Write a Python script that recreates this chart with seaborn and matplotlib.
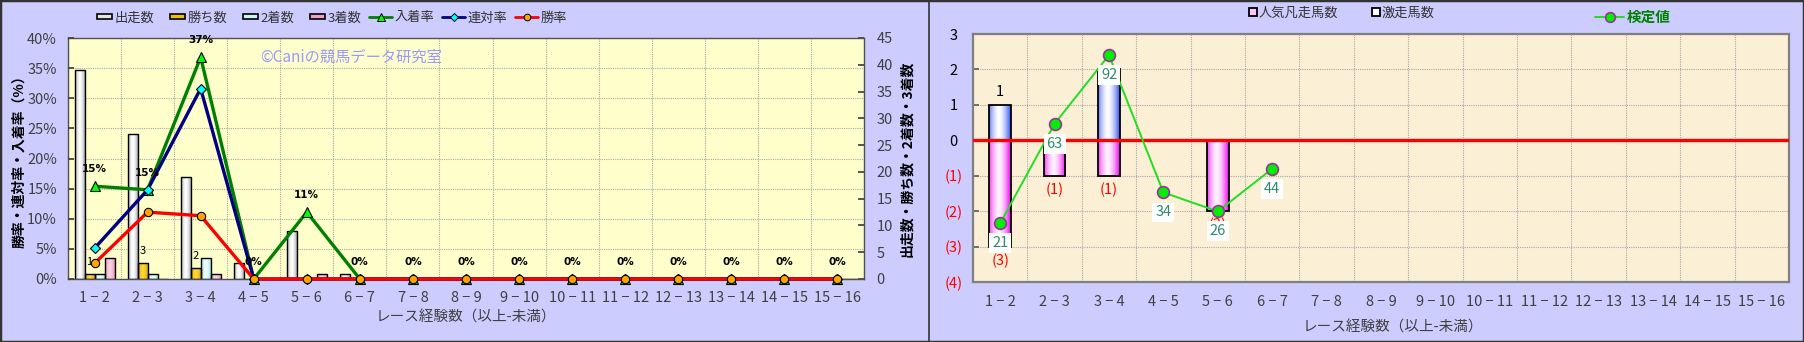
import numpy as np
import pandas as pd
import matplotlib
matplotlib.use("Agg")
import matplotlib.pyplot as plt
import seaborn as sns
from matplotlib.patches import Rectangle, Patch
from matplotlib.lines import Line2D
from matplotlib.legend_handler import HandlerPatch
from matplotlib.colors import to_rgb

sns.set_theme(style="white")
plt.rcParams["font.family"] = ["Noto Sans CJK JP", "DejaVu Sans"]

# ---- data -------------------------------------------------------------
categories = ["1 − 2", "2 − 3", "3 − 4", "4 − 5", "5 − 6", "6 − 7", "7 − 8", "8 − 9",
              "9 − 10", "10 − 11", "11 − 12", "12 − 13", "13 − 14", "14 − 15", "15 − 16"]

runs = [39, 27, 19, 3, 9, 1, 0, 0, 0, 0, 0, 0, 0, 0, 0]
wins = [1, 3, 2, 0, 0, 0, 0, 0, 0, 0, 0, 0, 0, 0, 0]
seconds = [1, 1, 4, 0, 0, 0, 0, 0, 0, 0, 0, 0, 0, 0, 0]
thirds = [4, 0, 1, 0, 1, 0, 0, 0, 0, 0, 0, 0, 0, 0, 0]

place_rate = [15.4, 14.8, 36.8, 0, 11.1, 0, 0, 0, 0, 0, 0, 0, 0, 0, 0]
quinella_rate = [5.1, 14.8, 31.6, 0, 0, 0, 0, 0, 0, 0, 0, 0, 0, 0, 0]
win_rate = [2.6, 11.1, 10.5, 0, 0, 0, 0, 0, 0, 0, 0, 0, 0, 0, 0]

upset_horses = [1, 0, 2, 0, 0, 0, 0, 0, 0, 0, 0, 0, 0, 0, 0]
flop_horses = [3, 1, 1, 0, 2, 0, 0, 0, 0, 0, 0, 0, 0, 0, 0]
test_values = [21, 63, 92, 34, 26, 44]

bar_names = ["出走数", "勝ち数", "2着数", "3着数"]
rate_names = ["入着率", "連対率", "勝率"]

pct_ticks = [0, 5, 10, 15, 20, 25, 30, 35, 40]
count_ticks = [0, 5, 10, 15, 20, 25, 30, 35, 40, 45]
score_ticks = [-4, -3, -2, -1, 0, 1, 2, 3]
score_labels = ["(4)", "(3)", "(2)", "(1)", "0", "1", "2", "3"]

# ---- styling ----------------------------------------------------------
PANEL_BG = "#CCCCFF"
TXT = "#404040"
GRID = dict(color="#A8A8A8", lw=0.8, ls=(0, (1, 1)))
# (edge colour, centre colour) of the shaded bars
bar_shades = [("#8C8C8C", "#FFFFFF"), ("#C89600", "#FFD633"),
              ("#86D2DA", "#EFFFFF"), ("#DC78AA", "#FFD2E6")]
bar_legend_fc = ["#E4E4E4", "#F0C000", "#C8F2F4", "#F0A0C8"]
up_shade = ("#3050F0", "#FFFFFF")
down_shade = ("#EE00EE", "#FFF2FF")


def shade_bar(ax, patch, edge, mid):
    """Replace a bar's flat fill by a horizontal edge-centre-edge gradient."""
    h = patch.get_height()
    if h == 0:
        return
    x0, y0, w = patch.get_x(), patch.get_y(), patch.get_width()
    t = np.linspace(0, 1, 64)
    prof = np.clip(1 - (np.abs(t - 0.45) / 0.55) ** 1.6, 0, 1)
    e, m = np.array(to_rgb(edge)), np.array(to_rgb(mid))
    arr = (e[None, :] * (1 - prof[:, None]) + m[None, :] * prof[:, None])[None, :, :]
    im = ax.imshow(arr, extent=[x0, x0 + w, min(y0, y0 + h), max(y0, y0 + h)],
                   aspect="auto", interpolation="bilinear", zorder=patch.get_zorder())
    im.set_clip_path(patch)
    patch.set_facecolor("none")
    patch.set_zorder(patch.get_zorder() + 0.05)


fig = plt.figure(figsize=(18.04, 3.42), dpi=100, facecolor=PANEL_BG)
W, H = 1804, 342

# ======================= left chart =====================================
ax_b = fig.add_axes([68 / W, 1 - 279 / H, (864 - 68) / W, (279 - 38) / H])
ax_b.set_facecolor("#FFFFCC")
ax_l = ax_b.twinx()

df = pd.DataFrame({
    "cat": categories * 4,
    "series": [n for n in bar_names for _ in categories],
    "count": runs + wins + seconds + thirds,
})
sns.barplot(data=df, x="cat", y="count", hue="series", hue_order=bar_names,
            palette=bar_legend_fc, width=0.755, edgecolor="black", linewidth=1.0,
            saturation=1, legend=False, ax=ax_b)

for cont, (e, m) in zip(ax_b.containers, bar_shades):
    for p in cont.patches:
        shade_bar(ax_b, p, e, m)

ax_b.bar_label(ax_b.containers[1], labels=[str(v) if v else "" for v in wins],
               padding=5, fontsize=8, color="black")

ax_b.set_xlim(-0.5, len(categories) - 0.5)
ax_b.set_ylim(0, 45)
ax_b.set_xticks(range(len(categories)))
ax_b.set_xticklabels(categories)
ax_b.set_xticks(np.arange(0.5, len(categories) - 0.5, 1), minor=True)
ax_b.grid(which="minor", axis="x", **GRID)
ax_b.set_axisbelow(True)
for p in pct_ticks[1:-1]:
    ax_b.axhline(45 * p / 40, zorder=0.5, **GRID)

ax_b.set_yticks(count_ticks)
ax_b.tick_params(axis="y", direction="in", length=4, pad=9, labelsize=10.5,
                 labelcolor=TXT, color="#404040", right=True, left=False,
                 labelright=True, labelleft=False)
ax_b.tick_params(axis="x", which="major", length=0, pad=9, labelsize=10.5, labelcolor=TXT)
ax_b.tick_params(axis="x", which="minor", length=0)
ax_b.set_xlabel("レース経験数（以上-未満）", fontsize=10.5, color=TXT)
ax_b.xaxis.set_label_coords(0.5, -0.13)
ax_b.yaxis.set_label_position("right")
ax_b.set_ylabel("出走数・勝ち数・2着数・3着数", fontsize=10, color="black",
                fontweight="bold", rotation=90, va="top")
ax_b.yaxis.set_label_coords(1.046, 0.5)
for s in ax_b.spines.values():
    s.set_color("#505050")
    s.set_linewidth(1.0)

xpos = np.arange(len(categories))
line_specs = [
    (place_rate, "#008000", "^", "#00FF00", 7.5),
    (quinella_rate, "#000080", "D", "#00FFFF", 5.0),
    (win_rate, "#FF0000", "o", "#FFA500", 6.0),
]
for vals, lc, mk, mfc, ms in line_specs:
    sns.lineplot(x=xpos, y=vals, ax=ax_l, color=lc, lw=2.4, marker=mk, markersize=ms,
                 markerfacecolor=mfc, markeredgecolor="black", markeredgewidth=0.8,
                 legend=False, clip_on=False)
for i, v in enumerate(place_rate):
    ax_l.annotate(f"{v:.0f}%", (i, v), xytext=(0, 17), textcoords="offset pixels",
                  ha="center", va="center", fontsize=7.5, fontweight="bold",
                  color="black", family="DejaVu Sans")
ax_l.text(0.241, 0.921, "©Caniの競馬データ研究室", transform=ax_l.transAxes,
          ha="left", va="center", fontsize=11, color="#9999FF")
ax_l.set_ylim(0, 40)
ax_l.set_yticks(pct_ticks)
ax_l.set_yticklabels([f"{p}%" for p in pct_ticks])
ax_l.tick_params(axis="y", direction="in", length=4, pad=8, labelsize=10.5,
                 labelcolor=TXT, color="#404040", left=True, right=False,
                 labelleft=True, labelright=False)
ax_l.yaxis.set_label_position("left")
ax_l.set_ylabel("勝率・連対率・入着率（%）", fontsize=10, color="black",
                fontweight="bold", va="bottom")
ax_l.yaxis.set_label_coords(-0.052, 0.5)
for s in ax_l.spines.values():
    s.set_visible(False)
ax_l.set_xlim(-0.5, len(categories) - 0.5)


def small_rect(legend, orig_handle, xdescent, ydescent, width, height, fontsize):
    w2, h2 = width * 0.66, height * 0.55
    return Rectangle((-xdescent + width - w2, -ydescent + (height - h2) / 2), w2, h2)


left_handles = [Patch(facecolor=c, edgecolor="black", lw=1.2) for c in bar_legend_fc]
left_handles += [Line2D([], [], color=lc, lw=2, marker=mk, markersize=ms * 0.8,
                        markerfacecolor=mfc, markeredgecolor="black", markeredgewidth=0.7)
                 for _, lc, mk, mfc, ms in line_specs]
leg = fig.legend(left_handles, bar_names + rate_names, ncol=7, loc="center",
                 bbox_to_anchor=(328 / W, 1 - 18 / H), frameon=False, fontsize=9.5,
                 handlelength=1.75, handletextpad=0.15, columnspacing=0.62,
                 handler_map={Patch: HandlerPatch(patch_func=small_rect)})
for t in leg.get_texts():
    t.set_color("#333333")

# ======================= right chart ====================================
ax_r = fig.add_axes([973 / W, 1 - 282 / H, (1789 - 973) / W, (282 - 34) / H])
ax_r.set_facecolor("#FBF0D6")

sns.barplot(x=categories, y=upset_horses, color=up_shade[0], width=0.4,
            edgecolor="black", linewidth=1.3, saturation=1, ax=ax_r)
sns.barplot(x=categories, y=[-v for v in flop_horses], color=down_shade[0], width=0.4,
            edgecolor="black", linewidth=1.3, saturation=1, ax=ax_r)
for p in ax_r.containers[0].patches:
    shade_bar(ax_r, p, *up_shade)
for p in ax_r.containers[1].patches:
    shade_bar(ax_r, p, *down_shade)

ax_r.bar_label(ax_r.containers[0], labels=[str(v) if v else "" for v in upset_horses],
               padding=4, fontsize=10.5, color="black")
ax_r.bar_label(ax_r.containers[1], labels=[f"({v})" if v else "" for v in flop_horses],
               padding=5, fontsize=10.5, color="#FF0000")
ax_r.axhline(0, color="#FF0000", lw=2.4, zorder=3)

ax_r.set_xlim(-0.5, len(categories) - 0.5)
ax_r.set_ylim(-4, 3)
ax_r.set_xticks(range(len(categories)))
ax_r.set_xticklabels(categories)
ax_r.set_xticks(np.arange(0.5, len(categories) - 0.5, 1), minor=True)
ax_r.set_yticks(score_ticks)
ax_r.set_yticklabels(score_labels)
for lbl, v in zip(ax_r.get_yticklabels(), score_ticks):
    lbl.set_color("#FF0000" if v < 0 else "black")
    lbl.set_horizontalalignment("center")
ax_r.grid(which="minor", axis="x", **GRID)
ax_r.grid(which="major", axis="y", **GRID)
ax_r.set_axisbelow(True)
ax_r.tick_params(axis="y", direction="in", length=4, pad=14, labelsize=10.5, color="#606060")
ax_r.tick_params(axis="x", which="major", length=0, pad=9, labelsize=10.5, labelcolor=TXT)
ax_r.tick_params(axis="x", which="minor", length=0)
ax_r.set_xlabel("レース経験数（以上-未満）", fontsize=10.5, color=TXT)
ax_r.xaxis.set_label_coords(0.515, -0.155)
ax_r.set_ylabel("")
for s in ax_r.spines.values():
    s.set_color("#808080")
    s.set_linewidth(1.6)

ax_rt = ax_r.twinx()
sns.lineplot(x=np.arange(len(test_values)), y=test_values, ax=ax_rt, color="#22DD22",
             lw=1.4, marker="o", markersize=8.5, markerfacecolor="#00EE00",
             markeredgecolor="#993399", markeredgewidth=1.2, legend=False)
for i, v in enumerate(test_values):
    ax_rt.annotate(str(v), (i, v), xytext=(0, -20), textcoords="offset pixels",
                   ha="center", va="center", fontsize=10.5, color="#2E8B6A",
                   bbox=dict(boxstyle="square,pad=0.2", fc="white", ec="none"), zorder=6)
ax_rt.set_ylim(-3.8, 100.9)
ax_rt.yaxis.set_visible(False)
for s in ax_rt.spines.values():
    s.set_visible(False)
ax_rt.set_xlim(-0.5, len(categories) - 0.5)

leg_a = fig.legend(
    [Line2D([], [], ls="none", marker="s", markersize=5.5, markerfacecolor="#FFC8F0",
            markeredgecolor="black", markeredgewidth=1.3),
     Line2D([], [], ls="none", marker="s", markersize=5.5, markerfacecolor="white",
            markeredgecolor="black", markeredgewidth=1.3)],
    ["人気凡走馬数", "激走馬数"], ncol=2, loc="center",
    bbox_to_anchor=(1342 / W, 1 - 13 / H), frameon=False, fontsize=9.5,
    handlelength=0.5, handletextpad=0.2, columnspacing=2.6)
for t in leg_a.get_texts():
    t.set_color("#333333")
leg_b = fig.legend(
    [Line2D([], [], color="#22DD22", lw=1.4, marker="o", markersize=7,
            markerfacecolor="#00EE00", markeredgecolor="#993399", markeredgewidth=1.2)],
    ["検定値"], loc="center", bbox_to_anchor=(1633 / W, 1 - 17 / H), frameon=False,
    fontsize=10.5, handlelength=2.0, handletextpad=0.2)
for t in leg_b.get_texts():
    t.set_color("#008000")
    t.set_fontweight("bold")

# panel frames
fig.add_artist(Rectangle((0, 0), 1, 1, transform=fig.transFigure, fill=False,
                         ec="#333333", lw=2.5))
fig.add_artist(Line2D([929 / W, 929 / W], [0, 1], transform=fig.transFigure,
                      color="#333333", lw=1.2))

fig.savefig("out.png", dpi=100, facecolor=fig.get_facecolor())
